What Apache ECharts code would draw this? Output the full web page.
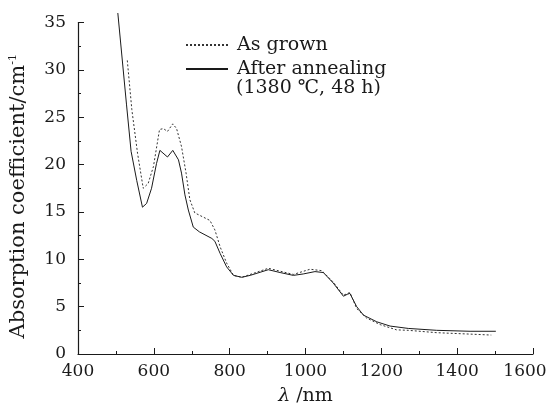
<!DOCTYPE html>
<html>
<head>
<meta charset="utf-8">
<script src="https://cdn.jsdelivr.net/npm/echarts@6/dist/echarts.min.js"></script>
<style>
html, body { margin: 0; padding: 0; background: #fff; }
#chart { width: 551px; height: 408px; }
</style>
</head>
<body>
<div id="chart"></div>
<script>
// 退火后 (实线)
var annealX = [505, 528, 540, 555, 570, 581, 594, 607, 616, 636, 650, 665, 673, 682, 691, 704, 720, 753, 761, 775, 792, 810, 832, 854, 902, 933, 968, 994, 1025, 1047, 1073, 1100, 1110, 1117, 1135, 1153, 1188, 1223, 1271, 1346, 1434, 1502]
var annealY = [36, 26.3, 21.4, 18.3, 15.5, 15.9, 17.5, 20.1, 21.5, 20.8, 21.5, 20.5, 19.1, 16.8, 15.2, 13.4, 12.9, 12.2, 11.9, 10.6, 9.2, 8.3, 8.1, 8.3, 8.9, 8.6, 8.3, 8.45, 8.7, 8.6, 7.5, 6.1, 6.3, 6.4, 5.0, 4.1, 3.4, 2.95, 2.7, 2.5, 2.4, 2.4]
// 生长态 (虚线)
var grownX = [530, 542, 557, 572, 585, 599, 615, 625, 636, 650, 660, 673, 685, 695, 708, 748, 761, 775, 792, 810, 832, 902, 968, 1012, 1043, 1073, 1100, 1117, 1135, 1161, 1197, 1240, 1271, 1346, 1434, 1490]
var grownY = [31, 25.8, 21.2, 17.5, 18.0, 19.8, 23.7, 23.8, 23.5, 24.3, 23.8, 21.9, 19.1, 16.3, 14.9, 14.1, 13.1, 11.3, 9.6, 8.3, 8.1, 9.05, 8.4, 8.95, 8.8, 7.6, 6.2, 6.5, 4.8, 3.8, 3.1, 2.55, 2.5, 2.25, 2.1, 2.0]

var seriesNames = ['As grown', 'After annealing']
var noteText = '(1380 ℃, 48 h)'

function pairs (xs, ys) {
    var out = []
    for (var i = 0; i < xs.length; i++) {
        out.push([xs[i], ys[i]])
    }
    return out
}

var font = 'DejaVu Serif'
var ink = '#1a1a1a'

var myChart = echarts.init(document.getElementById('chart'))
var option = {
    animation: false,
    grid: { left: 78, right: 18, top: 22.5, bottom: 54, outerBoundsMode: 'none', containLabel: false },
    legend: {
        orient: 'vertical',
        left: 180,
        top: 30,
        itemWidth: 42,
        itemHeight: 14,
        itemGap: 4,
        data: seriesNames,
        itemStyle: { opacity: 0 },
        textStyle: { fontFamily: font, fontSize: 19, color: ink, lineHeight: 20, padding: [0, 0, 0, 4] }
    },
    graphic: [{
        type: 'text',
        left: 236,
        top: 79,
        style: { text: noteText, font: '19px "DejaVu Serif"', fill: ink }
    }],
    xAxis: {
        type: 'value',
        min: 400,
        max: 1600,
        interval: 200,
        name: '{i|λ} /nm',
        nameLocation: 'middle',
        nameGap: 33,
        nameTextStyle: {
            fontFamily: font, fontSize: 19, color: ink,
            rich: { i: { fontFamily: font, fontSize: 19, fontStyle: 'italic', color: ink } }
        },
        axisLine: { lineStyle: { color: ink, width: 1.2 } },
        axisTick: { inside: true, length: 6, lineStyle: { color: ink } },
        minorTick: { show: true, splitNumber: 2, length: 3, lineStyle: { color: ink } },
        axisLabel: {
            fontFamily: font, fontSize: 17, color: ink, margin: 9,
            // 最后一个标签略向左移, 以免被裁切
            formatter: function (v) { return v === 1600 ? '{r|' + v + '}' : String(v) },
            rich: { r: { fontFamily: font, fontSize: 17, color: ink, padding: [0, 16, 0, 0] } }
        },
        splitLine: { show: false }
    },
    yAxis: {
        type: 'value',
        min: 0,
        max: 35,
        interval: 5,
        name: 'Absorption coefficient/cm{s|-1}',
        nameLocation: 'middle',
        nameGap: 49,
        nameTextStyle: {
            fontFamily: font, fontSize: 21, color: ink, padding: [0, 16, 0, 0],
            rich: { s: { fontFamily: font, fontSize: 11, color: ink, verticalAlign: 'top', padding: [0, 0, 10, 0] } }
        },
        axisLine: { show: true, lineStyle: { color: ink, width: 1.2 } },
        axisTick: { show: true, inside: true, length: 6, lineStyle: { color: ink } },
        minorTick: { show: true, splitNumber: 2, length: 3, lineStyle: { color: ink } },
        axisLabel: { fontFamily: font, fontSize: 17, color: ink, margin: 12 },
        splitLine: { show: false }
    },
    series: [{
        name: seriesNames[0],
        type: 'line',
        symbol: 'none',
        clip: false,
        data: pairs(grownX, grownY),
        lineStyle: { color: '#333', width: 1, type: [2, 2] },
        itemStyle: { color: '#333' }
    }, {
        name: seriesNames[1],
        type: 'line',
        symbol: 'none',
        clip: false,
        data: pairs(annealX, annealY),
        lineStyle: { color: ink, width: 1, type: 'solid' },
        itemStyle: { color: ink }
    }]
}
myChart.setOption(option)
</script>
</body>
</html>
